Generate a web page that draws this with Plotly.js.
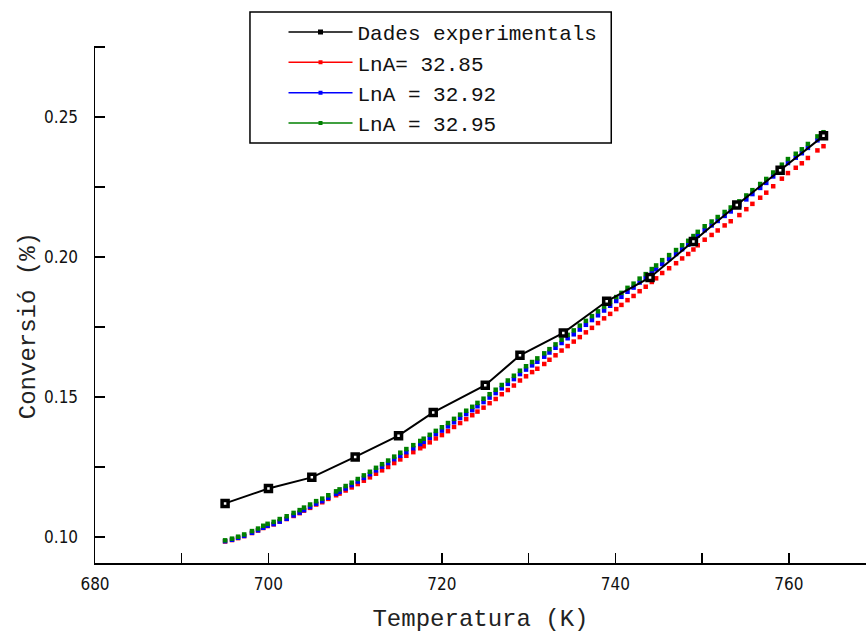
<!DOCTYPE html>
<html>
<head>
<meta charset="utf-8">
<script src="https://cdn.plot.ly/plotly-3.0.1.min.js"></script>
<style>html,body{margin:0;padding:0;background:#fff;}#chart{width:866px;height:636px;}</style>
</head>
<body>
<div id="chart"></div>
<script>
// Experimental data
var expTemp = [695, 700, 705, 710, 715, 719, 725, 729, 734, 739, 744, 749, 754, 759, 764];
var expConv = [0.1120, 0.1173, 0.1213, 0.1286, 0.1362, 0.1445, 0.1542, 0.1649, 0.1729, 0.1842, 0.1927, 0.2056, 0.2186, 0.2310, 0.2433];

// Simulated curves (temperature grid shared by the three fits)
var simTemp = [
  695.0, 695.8, 696.5, 697.2, 698.1, 698.8, 699.4, 699.9, 700.6, 701.3,
  702.1, 702.9, 703.6, 704.1, 704.8, 705.5, 706.2, 706.9, 707.8, 708.2,
  708.9, 709.6, 710.3, 711.0, 711.7, 712.4, 713.1, 713.8, 714.5, 715.2,
  715.9, 716.7, 717.5, 717.9, 718.6, 719.3, 720.0, 720.7, 721.4, 722.1,
  722.8, 723.5, 724.1, 724.8, 725.5, 726.2, 726.9, 727.6, 728.3, 729.0,
  729.7, 730.4, 731.0, 731.8, 732.4, 733.1, 733.8, 734.5, 735.2, 735.9,
  736.6, 737.3, 738.0, 738.7, 739.4, 740.1, 740.7, 741.4, 742.1, 742.8,
  743.5, 744.2, 744.7, 745.4, 746.2, 747.0, 747.7, 748.4, 749.0, 749.5,
  750.3, 751.1, 751.8, 752.6, 753.3, 754.3, 755.1, 755.8, 756.7, 757.4,
  758.2, 759.2, 759.9, 760.8, 761.5, 762.2, 763.3, 764.0
];
var convLnA3285 = [
  0.0984, 0.0989, 0.0996, 0.1003, 0.1014, 0.1023, 0.1032, 0.1039, 0.1045, 0.1055,
  0.1064, 0.1075, 0.1085, 0.1094, 0.1104, 0.1116, 0.1124, 0.1136, 0.1149, 0.1155,
  0.1166, 0.1177, 0.1189, 0.1201, 0.1213, 0.1226, 0.1238, 0.1250, 0.1264, 0.1277,
  0.1290, 0.1303, 0.1317, 0.1324, 0.1338, 0.1352, 0.1364, 0.1378, 0.1393, 0.1407,
  0.1421, 0.1435, 0.1448, 0.1462, 0.1478, 0.1493, 0.1510, 0.1525, 0.1541, 0.1559,
  0.1574, 0.1589, 0.1601, 0.1618, 0.1633, 0.1649, 0.1666, 0.1682, 0.1698, 0.1714,
  0.1731, 0.1747, 0.1764, 0.1781, 0.1797, 0.1814, 0.1829, 0.1846, 0.1861, 0.1878,
  0.1894, 0.1911, 0.1924, 0.1943, 0.1960, 0.1978, 0.1995, 0.2011, 0.2027, 0.2042,
  0.2062, 0.2079, 0.2095, 0.2113, 0.2128, 0.2150, 0.2171, 0.2190, 0.2212, 0.2230,
  0.2253, 0.2280, 0.2300, 0.2319, 0.2335, 0.2354, 0.2381, 0.2396
];
var convLnA3292 = [
  0.0985, 0.0990, 0.0997, 0.1004, 0.1015, 0.1024, 0.1033, 0.1040, 0.1046, 0.1055,
  0.1065, 0.1077, 0.1087, 0.1096, 0.1107, 0.1119, 0.1128, 0.1140, 0.1154, 0.1161,
  0.1173, 0.1185, 0.1198, 0.1211, 0.1224, 0.1238, 0.1251, 0.1264, 0.1278, 0.1290,
  0.1303, 0.1317, 0.1332, 0.1340, 0.1354, 0.1368, 0.1380, 0.1395, 0.1410, 0.1425,
  0.1439, 0.1453, 0.1467, 0.1482, 0.1498, 0.1514, 0.1531, 0.1547, 0.1564, 0.1582,
  0.1598, 0.1613, 0.1626, 0.1644, 0.1659, 0.1676, 0.1693, 0.1710, 0.1724, 0.1741,
  0.1758, 0.1775, 0.1792, 0.1809, 0.1826, 0.1843, 0.1858, 0.1876, 0.1891, 0.1909,
  0.1925, 0.1943, 0.1956, 0.1975, 0.1993, 0.2011, 0.2028, 0.2044, 0.2061, 0.2076,
  0.2096, 0.2113, 0.2129, 0.2147, 0.2163, 0.2185, 0.2206, 0.2225, 0.2247, 0.2265,
  0.2288, 0.2316, 0.2336, 0.2355, 0.2371, 0.2390, 0.2417, 0.2433
];
var convLnA3295 = [
  0.0988, 0.0994, 0.1001, 0.1009, 0.1021, 0.1030, 0.1040, 0.1047, 0.1054, 0.1064,
  0.1074, 0.1086, 0.1096, 0.1105, 0.1116, 0.1128, 0.1137, 0.1149, 0.1163, 0.1170,
  0.1182, 0.1194, 0.1207, 0.1220, 0.1233, 0.1247, 0.1260, 0.1273, 0.1287, 0.1301,
  0.1314, 0.1328, 0.1343, 0.1351, 0.1365, 0.1379, 0.1392, 0.1407, 0.1422, 0.1437,
  0.1451, 0.1465, 0.1479, 0.1494, 0.1510, 0.1526, 0.1543, 0.1559, 0.1576, 0.1594,
  0.1610, 0.1625, 0.1638, 0.1656, 0.1671, 0.1688, 0.1705, 0.1722, 0.1738, 0.1755,
  0.1772, 0.1789, 0.1806, 0.1823, 0.1840, 0.1857, 0.1872, 0.1890, 0.1905, 0.1923,
  0.1939, 0.1957, 0.1970, 0.1989, 0.2007, 0.2025, 0.2042, 0.2058, 0.2075, 0.2090,
  0.2110, 0.2127, 0.2143, 0.2161, 0.2177, 0.2199, 0.2220, 0.2239, 0.2261, 0.2279,
  0.2302, 0.2330, 0.2350, 0.2369, 0.2385, 0.2404, 0.2431, 0.2446
];

var seriesNames = ["Dades experimentals", "LnA= 32.85", "LnA = 32.92", "LnA = 32.95"];
var seriesColors = ["#000000", "#ff0000", "#0000ff", "#008000"];
var xTitle = "Temperatura (K)";
var yTitle = "Conversió (%)";

var monoFont = "Liberation Mono, Courier New, monospace";
var narrowFont = "DejaVu Sans Condensed, Liberation Sans Narrow, Arial Narrow, sans-serif";

function simTrace(idx, ys) {
  return {
    x: simTemp, y: ys, type: "scatter", mode: "markers",
    name: seriesNames[idx], showlegend: false,
    marker: {symbol: "square", size: 4.5, color: seriesColors[idx], line: {width: 0}}
  };
}

// legend-only entries (no data points) so each key shows line-dot-line
function legendEntry(idx, msize) {
  return {
    x: [null], y: [null], type: "scatter", mode: "lines+markers",
    name: seriesNames[idx], showlegend: true,
    line: {color: seriesColors[idx], width: 1.5},
    marker: {symbol: "square", size: msize, color: seriesColors[idx]}
  };
}

var traces = [
  legendEntry(0, 5),
  legendEntry(1, 4),
  legendEntry(2, 4),
  legendEntry(3, 4),
  simTrace(1, convLnA3285),
  simTrace(2, convLnA3292),
  simTrace(3, convLnA3295),
  {
    x: expTemp, y: expConv, type: "scatter", mode: "lines+markers",
    name: seriesNames[0], showlegend: false,
    line: {color: seriesColors[0], width: 2},
    marker: {symbol: "square", size: 6, color: "#ffffff", line: {color: "#000000", width: 3.5}}
  }
];

var layout = {
  width: 866, height: 636,
  margin: {l: 95, r: 0, t: 46, b: 73},
  paper_bgcolor: "#ffffff", plot_bgcolor: "#ffffff",
  showlegend: true,
  legend: {
    x: 0.2445, y: 1.066, xanchor: "left", yanchor: "top",
    bgcolor: "rgba(0,0,0,0)", borderwidth: 0,
    font: {family: monoFont, size: 21, color: "#111111"},
    itemwidth: 64, traceorder: "normal"
  },
  shapes: [{
    type: "rect", xref: "paper", yref: "paper",
    x0: 0.201, x1: 0.6696, y0: 0.8124, y1: 1.0658,
    line: {color: "#000000", width: 1.5}, fillcolor: "#ffffff", layer: "above"
  }],
  xaxis: {
    range: [680, 768.9], tick0: 680, dtick: 20,
    showline: true, linecolor: "#000000", linewidth: 1.5,
    ticks: "inside", ticklen: 10, tickwidth: 1.5, tickcolor: "#000000",
    minor: {dtick: 10, ticks: "inside", ticklen: 10, tickwidth: 1.5, tickcolor: "#000000"},
    showgrid: false, zeroline: false,
    tickfont: {family: narrowFont, size: 17, color: "#111111"},
    ticklabelstandoff: 5,
    title: {text: xTitle, font: {family: monoFont, size: 24, color: "#222222"}, standoff: 16}
  },
  yaxis: {
    range: [0.0907, 0.2754], tick0: 0.1, dtick: 0.05, tickformat: ".2f",
    showline: true, linecolor: "#000000", linewidth: 1.5,
    ticks: "inside", ticklen: 10, tickwidth: 1.5, tickcolor: "#000000",
    minor: {dtick: 0.025, ticks: "inside", ticklen: 10, tickwidth: 1.5, tickcolor: "#000000"},
    showgrid: false, zeroline: false,
    tickfont: {family: narrowFont, size: 17, color: "#111111"},
    ticklabelstandoff: 12
  },
  annotations: [{
    text: yTitle, textangle: -90, showarrow: false,
    xref: "paper", yref: "paper", x: -0.0869, y: 0.458,
    xanchor: "center", yanchor: "middle",
    font: {family: monoFont, size: 24, color: "#222222"}
  }]
};

Plotly.newPlot("chart", traces, layout, {displayModeBar: false, staticPlot: true});
</script>
</body>
</html>
